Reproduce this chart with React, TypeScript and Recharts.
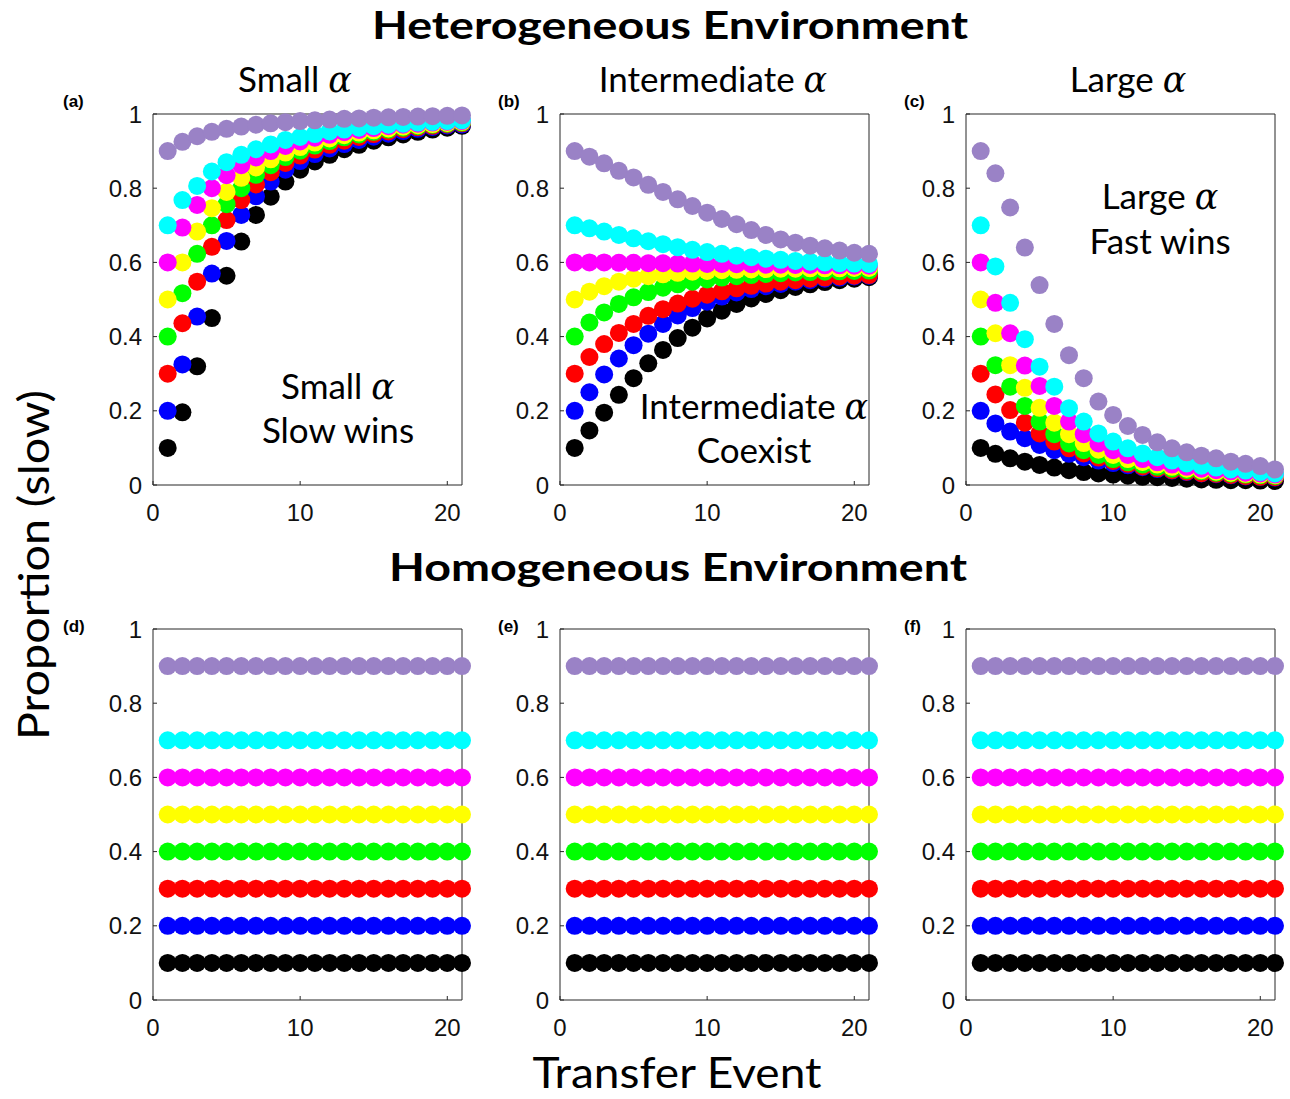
import { ScatterChart, Scatter, XAxis, YAxis } from 'recharts';

// ─── Data ──────────────────────────────────────────────────────────────────────
const EVENTS = [1, 2, 3, 4, 5, 6, 7, 8, 9, 10, 11, 12, 13, 14, 15, 16, 17, 18, 19, 20, 21];
const X_TICKS = [0, 10, 20];
const Y_TICKS = [0, 0.2, 0.4, 0.6, 0.8, 1];

// black, blue, red, green, yellow, magenta, cyan, purple (drawn in this order)
const COLORS = ['#000000', '#0000ff', '#ff0000', '#00ff00', '#ffff00', '#ff00ff', '#00ffff', '#9a82c6'];
const START_LEVELS = [0.1, 0.2, 0.3, 0.4, 0.5, 0.6, 0.7, 0.9];

// (a) small alpha
const SMALL_BLACK   = [0.10, 0.196, 0.32, 0.45, 0.564, 0.656, 0.728, 0.777, 0.818, 0.85, 0.872, 0.89, 0.905, 0.917, 0.928, 0.937, 0.945, 0.952, 0.958, 0.963, 0.968];
const SMALL_BLUE    = [0.20, 0.325, 0.454, 0.57, 0.658, 0.728, 0.778, 0.818, 0.85, 0.873, 0.892, 0.907, 0.919, 0.93, 0.939, 0.947, 0.954, 0.96, 0.965, 0.969, 0.972];
const SMALL_RED     = [0.30, 0.436, 0.548, 0.642, 0.714, 0.768, 0.81, 0.843, 0.868, 0.888, 0.904, 0.917, 0.928, 0.938, 0.946, 0.953, 0.959, 0.964, 0.968, 0.972, 0.975];
const SMALL_GREEN   = [0.40, 0.517, 0.623, 0.70, 0.757, 0.80, 0.836, 0.862, 0.884, 0.901, 0.915, 0.927, 0.937, 0.945, 0.952, 0.958, 0.963, 0.967, 0.971, 0.974, 0.977];
const SMALL_YELLOW  = [0.50, 0.60, 0.683, 0.746, 0.79, 0.828, 0.856, 0.878, 0.896, 0.911, 0.923, 0.934, 0.943, 0.95, 0.956, 0.961, 0.966, 0.97, 0.973, 0.976, 0.979];
const SMALL_MAGENTA = [0.60, 0.694, 0.755, 0.80, 0.835, 0.862, 0.883, 0.90, 0.914, 0.926, 0.936, 0.944, 0.951, 0.957, 0.962, 0.967, 0.971, 0.974, 0.977, 0.979, 0.981];
const SMALL_CYAN    = [0.70, 0.768, 0.806, 0.845, 0.87, 0.89, 0.905, 0.918, 0.93, 0.938, 0.946, 0.953, 0.958, 0.963, 0.967, 0.971, 0.974, 0.977, 0.979, 0.981, 0.983];
const SMALL_PURPLE  = [0.90, 0.925, 0.94, 0.952, 0.96, 0.966, 0.971, 0.975, 0.978, 0.981, 0.983, 0.985, 0.987, 0.988, 0.99, 0.991, 0.992, 0.993, 0.994, 0.995, 0.996];

// (b) intermediate alpha
const MID_BLACK   = [0.10, 0.147, 0.195, 0.243, 0.288, 0.328, 0.364, 0.396, 0.424, 0.449, 0.47, 0.488, 0.503, 0.515, 0.525, 0.534, 0.541, 0.547, 0.552, 0.556, 0.56];
const MID_BLUE    = [0.20, 0.25, 0.298, 0.341, 0.377, 0.408, 0.434, 0.457, 0.477, 0.494, 0.508, 0.519, 0.528, 0.536, 0.542, 0.548, 0.552, 0.556, 0.559, 0.562, 0.564];
const MID_RED     = [0.30, 0.345, 0.38, 0.41, 0.434, 0.456, 0.474, 0.489, 0.502, 0.513, 0.522, 0.53, 0.537, 0.543, 0.548, 0.552, 0.556, 0.559, 0.562, 0.564, 0.566];
const MID_GREEN   = [0.40, 0.438, 0.465, 0.488, 0.506, 0.52, 0.532, 0.541, 0.548, 0.554, 0.559, 0.563, 0.566, 0.569, 0.571, 0.573, 0.574, 0.575, 0.576, 0.577, 0.578];
const MID_YELLOW  = [0.50, 0.521, 0.536, 0.548, 0.556, 0.563, 0.568, 0.572, 0.575, 0.577, 0.579, 0.58, 0.581, 0.582, 0.583, 0.583, 0.584, 0.584, 0.584, 0.585, 0.585];
const MID_MAGENTA = [0.60, 0.60, 0.60, 0.599, 0.599, 0.598, 0.598, 0.597, 0.597, 0.596, 0.596, 0.595, 0.595, 0.594, 0.594, 0.593, 0.593, 0.592, 0.592, 0.591, 0.591];
const MID_CYAN    = [0.70, 0.692, 0.683, 0.674, 0.665, 0.657, 0.649, 0.641, 0.634, 0.628, 0.623, 0.618, 0.614, 0.61, 0.607, 0.604, 0.602, 0.60, 0.598, 0.597, 0.596];
const MID_PURPLE  = [0.90, 0.885, 0.867, 0.847, 0.829, 0.809, 0.79, 0.77, 0.752, 0.734, 0.717, 0.703, 0.687, 0.674, 0.662, 0.653, 0.645, 0.638, 0.632, 0.626, 0.623];

// (c) large alpha
const LARGE_BLACK   = [0.10, 0.084, 0.072, 0.063, 0.054, 0.047, 0.04, 0.035, 0.031, 0.028, 0.025, 0.022, 0.021, 0.019, 0.017, 0.015, 0.014, 0.013, 0.013, 0.012, 0.011];
const LARGE_BLUE    = [0.20, 0.166, 0.144, 0.126, 0.108, 0.094, 0.084, 0.075, 0.066, 0.059, 0.053, 0.048, 0.043, 0.039, 0.035, 0.031, 0.029, 0.026, 0.023, 0.022, 0.02];
const LARGE_RED     = [0.30, 0.244, 0.202, 0.168, 0.139, 0.117, 0.099, 0.085, 0.074, 0.065, 0.057, 0.05, 0.045, 0.04, 0.036, 0.032, 0.03, 0.027, 0.024, 0.022, 0.021];
const LARGE_GREEN   = [0.40, 0.323, 0.265, 0.213, 0.171, 0.137, 0.112, 0.094, 0.081, 0.07, 0.061, 0.055, 0.049, 0.044, 0.04, 0.037, 0.033, 0.031, 0.028, 0.026, 0.024];
const LARGE_YELLOW  = [0.50, 0.409, 0.323, 0.262, 0.208, 0.168, 0.137, 0.113, 0.095, 0.081, 0.07, 0.062, 0.055, 0.049, 0.044, 0.04, 0.036, 0.033, 0.03, 0.028, 0.026];
const LARGE_MAGENTA = [0.60, 0.491, 0.409, 0.322, 0.267, 0.213, 0.171, 0.137, 0.112, 0.094, 0.081, 0.07, 0.061, 0.055, 0.049, 0.044, 0.04, 0.037, 0.033, 0.031, 0.028];
const LARGE_CYAN    = [0.70, 0.589, 0.491, 0.393, 0.319, 0.265, 0.207, 0.171, 0.139, 0.117, 0.099, 0.085, 0.075, 0.066, 0.058, 0.052, 0.047, 0.042, 0.039, 0.035, 0.031];
const LARGE_PURPLE  = [0.90, 0.84, 0.748, 0.64, 0.539, 0.434, 0.35, 0.288, 0.225, 0.189, 0.159, 0.135, 0.115, 0.099, 0.088, 0.079, 0.072, 0.063, 0.057, 0.051, 0.042];

const SMALL = [SMALL_BLACK, SMALL_BLUE, SMALL_RED, SMALL_GREEN, SMALL_YELLOW, SMALL_MAGENTA, SMALL_CYAN, SMALL_PURPLE];
const MID = [MID_BLACK, MID_BLUE, MID_RED, MID_GREEN, MID_YELLOW, MID_MAGENTA, MID_CYAN, MID_PURPLE];
const LARGE = [LARGE_BLACK, LARGE_BLUE, LARGE_RED, LARGE_GREEN, LARGE_YELLOW, LARGE_MAGENTA, LARGE_CYAN, LARGE_PURPLE];
// homogeneous: every series stays at its start level
const FLAT = START_LEVELS.map(level => EVENTS.map(() => level));

// ─── Styling ───────────────────────────────────────────────────────────────────
const AXIS = '#262626';
const TICK_FONT = { fontSize: 24, fill: '#111', fontFamily: 'Liberation Sans, Arial, sans-serif' };
const LABEL_FONT = 'Lato, "Open Sans", sans-serif';
const PW = 309;
const PH = 371;
const ML = 70, MT = 12, MR = 24, MB = 50;
const DOT_R = 9;

function Panel({ left, top, series }: { left: number; top: number; series: number[][] }) {
  return (
    <div style={{ position: 'absolute', left: left - ML, top: top - MT }}>
      <ScatterChart
        width={ML + PW + MR}
        height={MT + PH + MB}
        margin={{ top: MT - 1, right: MR - 1, bottom: 0, left: 0 }}
      >
        <XAxis
          xAxisId="b" type="number" dataKey="x" domain={[0, 21]} ticks={X_TICKS}
          height={MB} tickSize={-4} tickMargin={23}
          stroke={AXIS} tick={TICK_FONT} interval={0}
        />
        <XAxis
          xAxisId="t" orientation="top" type="number" domain={[0, 21]} ticks={X_TICKS}
          height={1} tickSize={-4} tick={false} stroke={AXIS}
        />
        <YAxis
          yAxisId="l" type="number" dataKey="y" domain={[0, 1]} ticks={Y_TICKS}
          width={ML} tickSize={-4} tickMargin={15}
          stroke={AXIS} tick={TICK_FONT} interval={0}
        />
        <YAxis
          yAxisId="r" orientation="right" type="number" domain={[0, 1]} ticks={Y_TICKS}
          width={1} tickSize={-4} tick={false} stroke={AXIS}
        />
        {series.map((vals, i) => (
          <Scatter
            key={i}
            xAxisId="b"
            yAxisId="l"
            data={EVENTS.map((x, j) => ({ x, y: vals[j] }))}
            fill={COLORS[i]}
            isAnimationActive={false}
            shape={(p: any) => <circle cx={p.cx} cy={p.cy} r={DOT_R} fill={COLORS[i]} />}
          />
        ))}
      </ScatterChart>
    </div>
  );
}

const Alpha = () => (
  <tspan fontFamily="DejaVu Serif, serif" fontStyle="italic">α</tspan>
);

export default function App() {
  const cols = [153.3, 560, 966];
  const rows = [114, 629];
  return (
    <div style={{ position: 'absolute', left: 0, top: 0, width: 1290, height: 1099, background: '#fff', overflow: 'hidden' }}>
      <Panel left={cols[0]} top={rows[0]} series={SMALL} />
      <Panel left={cols[1]} top={rows[0]} series={MID} />
      <Panel left={cols[2]} top={rows[0]} series={LARGE} />
      <Panel left={cols[0]} top={rows[1]} series={FLAT} />
      <Panel left={cols[1]} top={rows[1]} series={FLAT} />
      <Panel left={cols[2]} top={rows[1]} series={FLAT} />

      <svg width={1290} height={1099} style={{ position: 'absolute', left: 0, top: 0, pointerEvents: 'none' }}>
        <g fontFamily={LABEL_FONT} fill="#000">
          <text x={670} y={39} fontSize={38} fontWeight={700} textAnchor="middle" textLength={596} lengthAdjust="spacingAndGlyphs">
            Heterogeneous Environment
          </text>
          <text x={678} y={581} fontSize={38} fontWeight={700} textAnchor="middle" textLength={578} lengthAdjust="spacingAndGlyphs">
            Homogeneous Environment
          </text>

          <text x={295} y={92} fontSize={35} textAnchor="middle">Small <Alpha /></text>
          <text x={713} y={92} fontSize={35} textAnchor="middle">Intermediate <Alpha /></text>
          <text x={1128} y={92} fontSize={35} textAnchor="middle">Large <Alpha /></text>

          <text x={338} y={399} fontSize={35} textAnchor="middle">Small <Alpha /></text>
          <text x={338} y={443} fontSize={35} textAnchor="middle">Slow wins</text>
          <text x={754} y={419} fontSize={35} textAnchor="middle">Intermediate <Alpha /></text>
          <text x={754} y={463} fontSize={35} textAnchor="middle">Coexist</text>
          <text x={1160} y={209} fontSize={35} textAnchor="middle">Large <Alpha /></text>
          <text x={1160} y={254} fontSize={35} textAnchor="middle">Fast wins</text>

          <text
            x={0} y={0} fontSize={42} textAnchor="middle" textLength={350} lengthAdjust="spacingAndGlyphs"
            transform="translate(49,565) rotate(-90)"
          >
            Proportion (slow)
          </text>
          <text x={677} y={1088} fontSize={42} textAnchor="middle" textLength={289} lengthAdjust="spacingAndGlyphs">
            Transfer Event
          </text>
        </g>
        <g fontFamily="Liberation Sans, Arial, sans-serif" fontWeight={700} fontSize={17} fill="#000">
          <text x={63} y={107}>(a)</text>
          <text x={498} y={107}>(b)</text>
          <text x={904} y={107}>(c)</text>
          <text x={63} y={632}>(d)</text>
          <text x={498} y={632}>(e)</text>
          <text x={904} y={632}>(f)</text>
        </g>
      </svg>
    </div>
  );
}
